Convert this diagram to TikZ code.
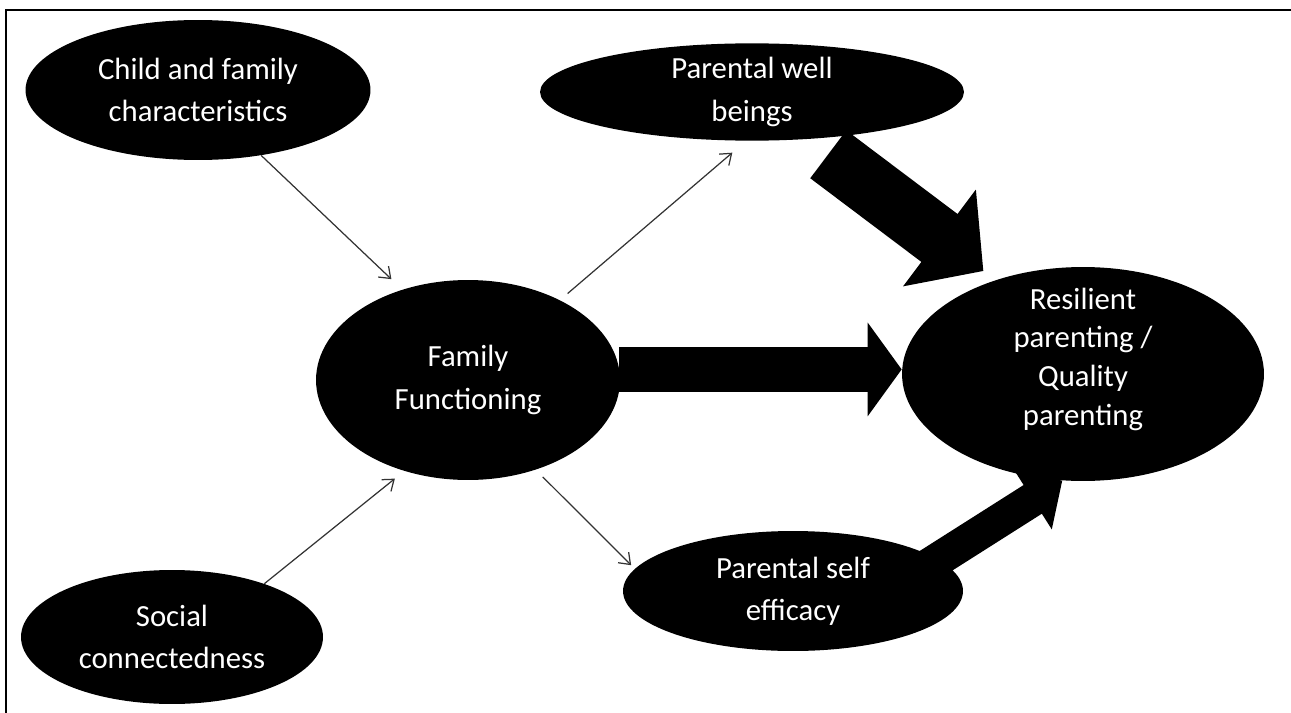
\documentclass[tikz,border=0pt]{standalone}
\usepackage{fontspec}
\setmainfont{Carlito}
\usetikzlibrary{shapes.geometric, arrows.meta}

\begin{document}
\begin{tikzpicture}[x=0.02cm, y=-0.02cm,
    factor/.style={ellipse, fill=black, text=white, align=center, inner sep=0pt,
        font=\fontsize{17.5}{24}\selectfont},
    thinarrow/.style={draw=black!80, line width=0.7pt,
        -{Straight Barb[length=2mm, width=3mm]}},
    fatarrow/.style={line width=#1}
]
\useasboundingbox (0,0) rectangle (1291,713);
\draw[line width=1.2pt] (6,713) |- (1291,10);

% Factors
\node[factor, minimum width=6.9cm, minimum height=2.8cm] (child) at (198,90)
    {Child and family\\characteristics};
\node[factor, minimum width=8.48cm, minimum height=1.94cm] (wellbeing) at (752,92)
    {Parental well\\beings};
\node[factor, minimum width=6.08cm, minimum height=4cm] (famfunc) at (468,380)
    {Family\\Functioning};
\node[factor, minimum width=7.24cm, minimum height=4.28cm] (resilient) at (1083,374) {};
\node[text=white, align=center, font=\fontsize{17.5}{22}\selectfont, yshift=0.3cm]
    (resilienttext) at (resilient) {Resilient\\parenting /\\Quality\\parenting};
\node[factor, minimum width=6.8cm, minimum height=2.4cm] (efficacy) at (793,591)
    {Parental self\\efficacy};
\node[factor, minimum width=6.04cm, minimum height=2.68cm] (social) at (172,637)
    {Social\\connectedness};

% Thin arrows
\draw[thinarrow, shorten >=0.3cm] (child.-46) -- (famfunc.126);
\draw[thinarrow, shorten <=0.2cm, shorten >=0.36cm] (famfunc.41) -- (wellbeing.-97);
\draw[thinarrow, shorten >=0.24cm] (social.30) -- (famfunc.-125);
\draw[thinarrow, shorten <=0.2cm, shorten >=0.1cm] (famfunc.-53) -- (efficacy.172);

% Fat arrows
\draw[fatarrow=1.2cm, -{Triangle[length=1.1cm, width=2.36cm]}, shorten <=0.5cm, shorten >=0.3cm]
    (wellbeing.-40) -- (resilient.133);
\draw[fatarrow=0.9cm, -{Triangle[length=0.68cm, width=1.84cm]}]
    (famfunc.4) -- (famfunc.4 -| resilient.west);
\draw[fatarrow=0.68cm, -{Triangle[length=0.7cm, width=1.38cm]}]
    ([xshift=-1.5cm]efficacy.east) -- (resilient.-101);
\end{tikzpicture}
\end{document}
